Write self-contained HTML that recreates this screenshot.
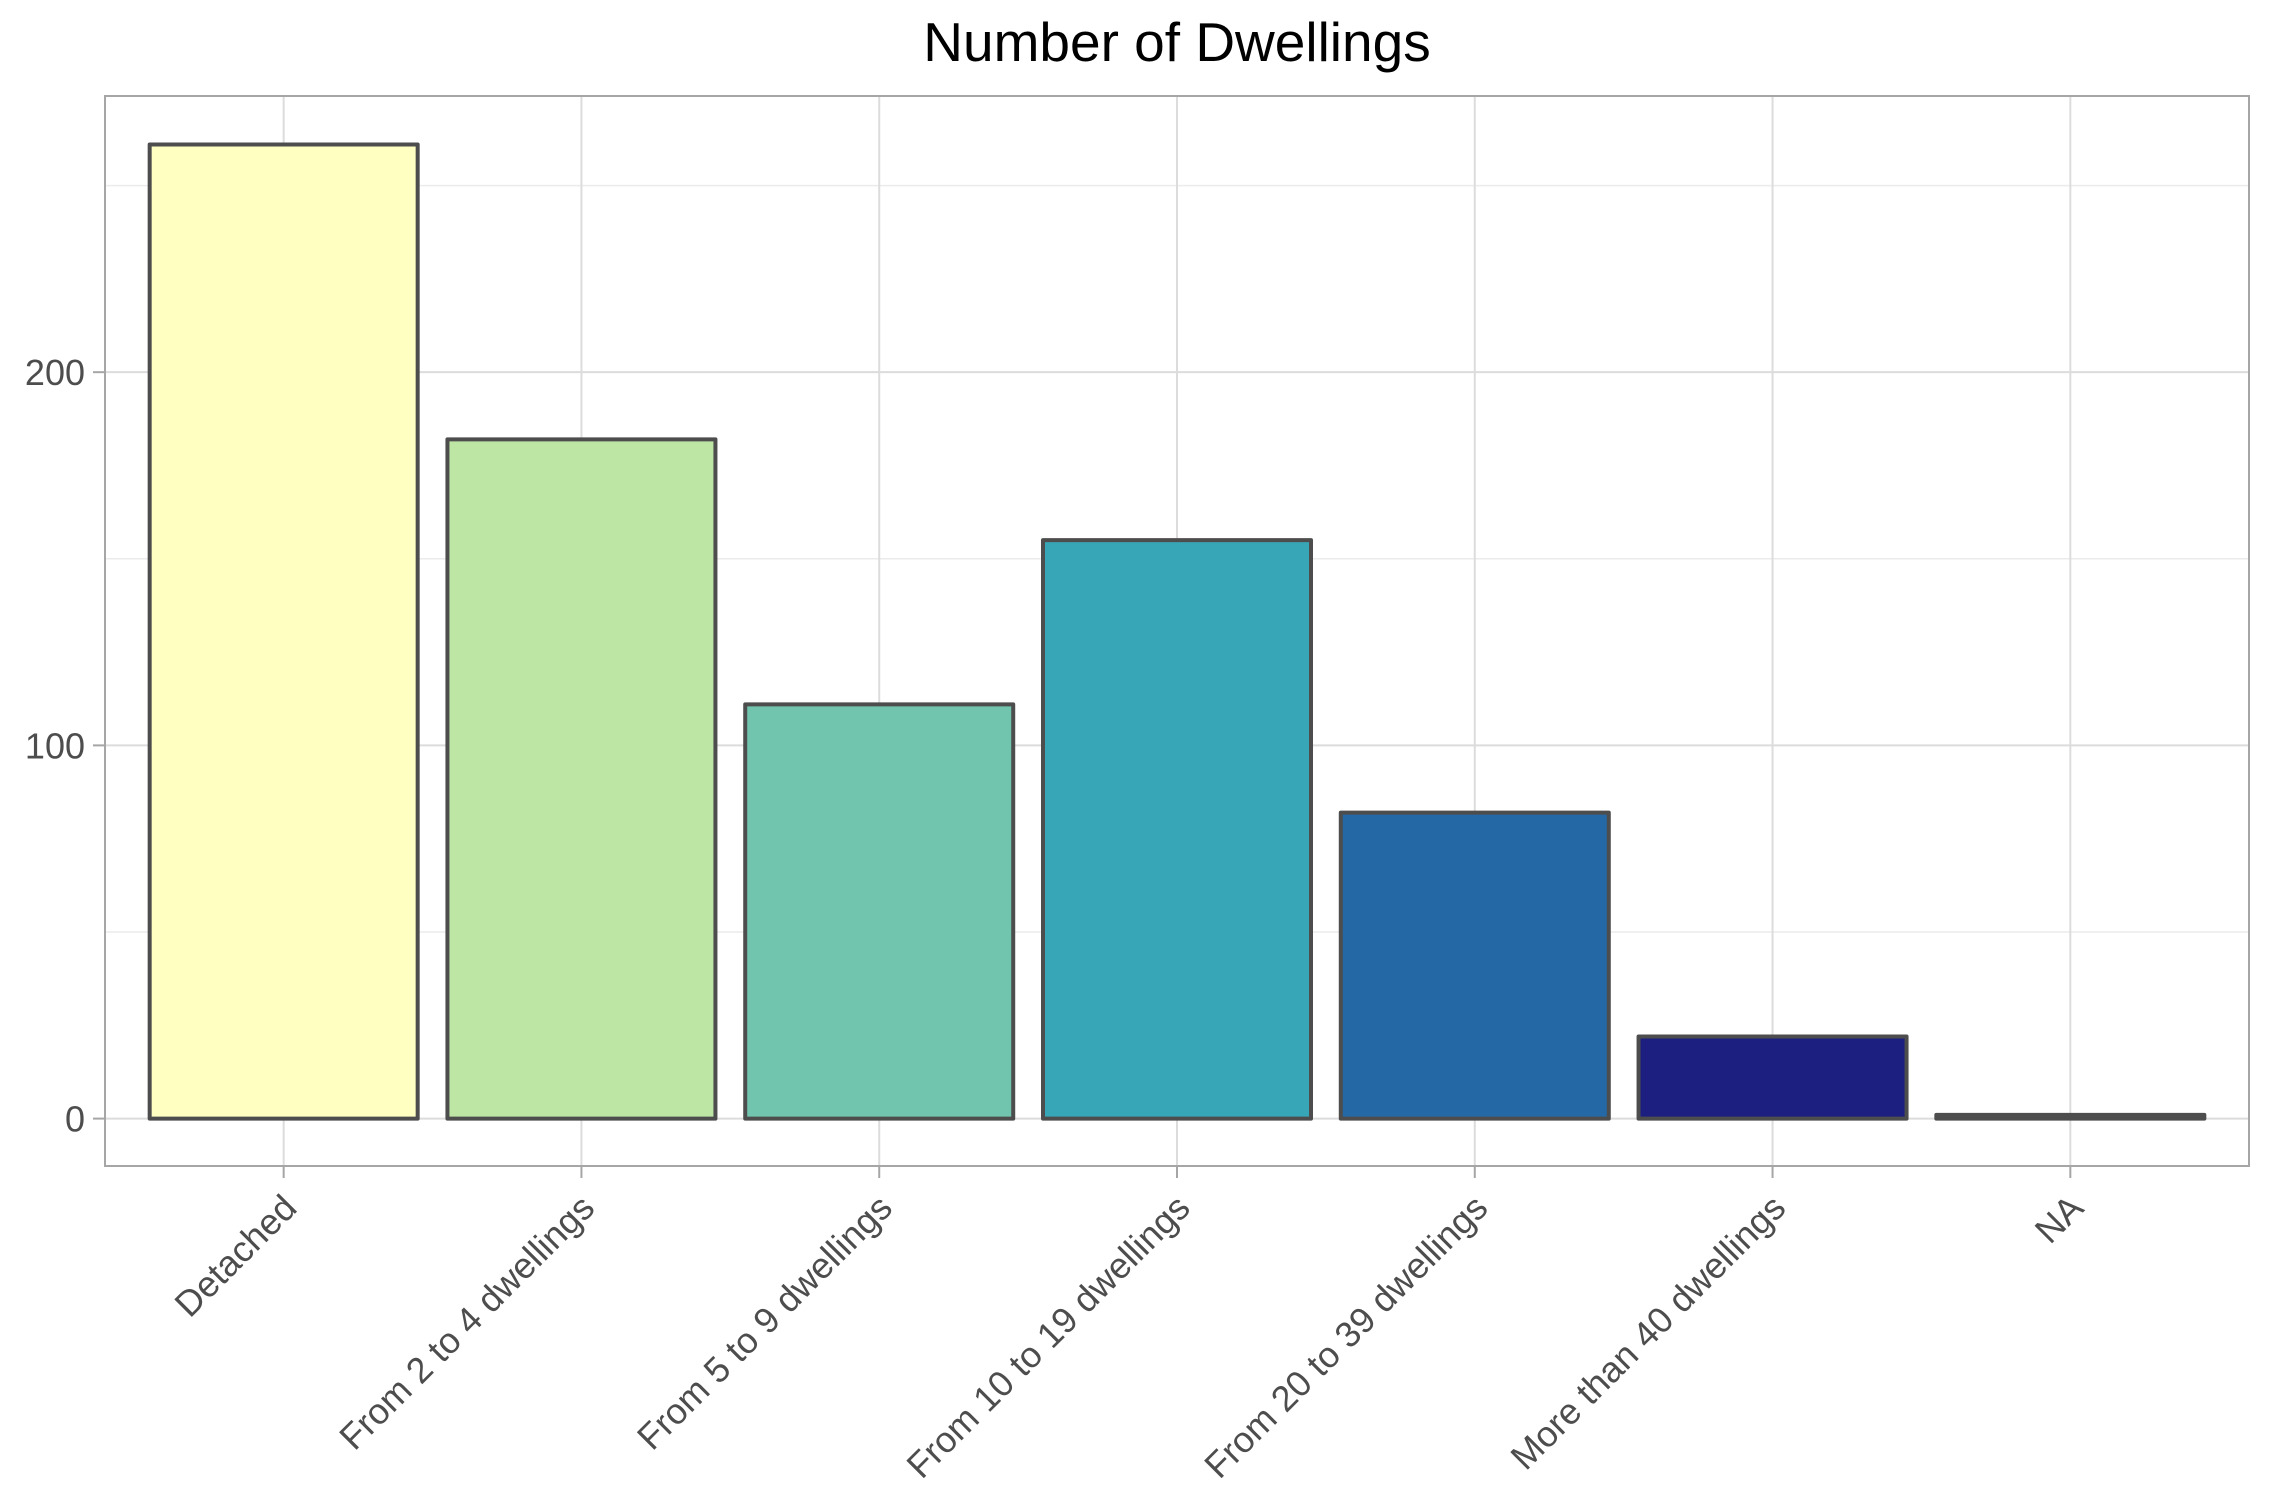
<!DOCTYPE html>
<html>
<head>
<meta charset="utf-8">
<style>
html,body{margin:0;padding:0;background:#fff;}
svg{display:block;font-family:"Liberation Sans",Arial,sans-serif;}
</style>
</head>
<body>
<svg id="chart" width="2274" height="1512" viewBox="0 0 2274 1512" xmlns="http://www.w3.org/2000/svg">
  <text x="1177" y="61" text-anchor="middle" font-size="55" fill="#000">Number of Dwellings</text>
  <g id="grid"></g>
  <g id="bars"></g>
  <g id="axes"></g>
</svg>
<script>
const categories = ["Detached","From 2 to 4 dwellings","From 5 to 9 dwellings","From 10 to 19 dwellings","From 20 to 39 dwellings","More than 40 dwellings","NA"];
const counts = [261, 182, 111, 155, 82, 22, 1];
const barColors = ["#ffffc2","#bde6a5","#71c4ad","#37a6b7","#2469a6","#1c1f7f","#4d4d4d"];
const yTicks = [0, 100, 200];
const yMinorTicks = [50, 150, 250];

const NS = "http://www.w3.org/2000/svg";
const P = {left:105, right:2249, top:96, bottom:1166};
const yMin = -12.7, yMax = 274;
function yScale(v){ return P.bottom - (v - yMin) / (yMax - yMin) * (P.bottom - P.top); }
const n = categories.length;
const step = (P.right - P.left) / (n - 1 + 1.2);
function xScale(i){ return P.left + step * (0.6 + i); }
const barW = step * 0.9;

function mk(tag, attrs, parent){
  const e = document.createElementNS(NS, tag);
  for (const k in attrs) e.setAttribute(k, attrs[k]);
  parent.appendChild(e);
  return e;
}
const grid = document.getElementById('grid');
const bars = document.getElementById('bars');
const axes = document.getElementById('axes');

yMinorTicks.forEach(v => {
  const l = mk('line', {x1:P.left, x2:P.right, y1:yScale(v), y2:yScale(v), stroke:'#ebebeb', 'stroke-width':1.5}, grid);
  
  
});
yTicks.forEach(v => {
  const l = mk('line', {x1:P.left, x2:P.right, y1:yScale(v), y2:yScale(v), stroke:'#dcdcdc', 'stroke-width':2}, grid);
  
  
});
categories.forEach((c, i) => {
  const l = mk('line', {x1:xScale(i), x2:xScale(i), y1:P.top, y2:P.bottom, stroke:'#dcdcdc', 'stroke-width':2}, grid);
  
  
});

categories.forEach((c, i) => {
  const y0 = yScale(0), y1 = yScale(counts[i]);
  const r = mk('rect', {x:xScale(i) - barW/2, y:Math.min(y0,y1), width:barW, height:Math.max(Math.abs(y0-y1),0.5),
    fill:barColors[i], stroke:'#4d4d4d', 'stroke-width':4, 'stroke-linejoin':'round'}, bars);
  
  
});

const frame = mk('rect', {x:P.left, y:P.top, width:P.right-P.left, height:P.bottom-P.top, fill:'none', stroke:'#a6a6a6', 'stroke-width':2}, axes);



yTicks.forEach(v => {
  const y = yScale(v);
  const t = mk('line', {x1:P.left-12, x2:P.left, y1:y, y2:y, stroke:'#a6a6a6', 'stroke-width':2}, axes);
  
  
  const lb = mk('text', {x:P.left-20, y:y+13, 'text-anchor':'end', 'font-size':36, fill:'#4d4d4d'}, axes);
  lb.textContent = v;
  
  
});

categories.forEach((c, i) => {
  const x = xScale(i);
  const t = mk('line', {x1:x, x2:x, y1:P.bottom, y2:P.bottom+12, stroke:'#a6a6a6', 'stroke-width':2}, axes);
  
  
  const ax = x + 15, ay = P.bottom + 44;
  const lb = mk('text', {x:ax, y:ay, 'text-anchor':'end', 'font-size':36, fill:'#4d4d4d', transform:'rotate(-45 ' + ax + ' ' + ay + ')'}, axes);
  lb.textContent = c;
  
  
});
</script>
</body>
</html>
